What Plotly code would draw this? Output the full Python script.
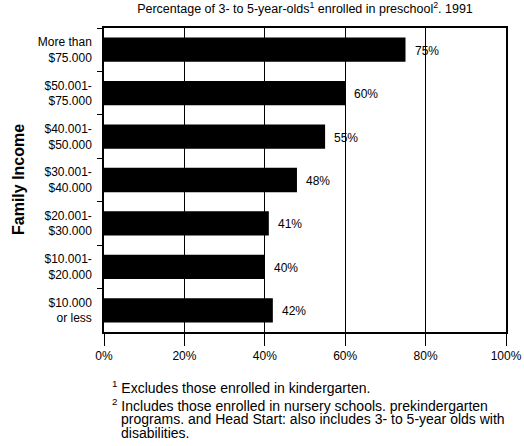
import plotly.graph_objects as go

categories = ["More than<br>$75.000", "$50.001-<br>$75.000", "$40.001-<br>$50.000",
              "$30.001-<br>$40.000", "$20.001-<br>$30.000", "$10.001-<br>$20.000",
              "$10.000<br>or less"]
values = [75, 60, 55, 48, 41, 40, 42]
x_ticks = [0, 20, 40, 60, 80, 100]
x_tick_labels = ["0%", "20%", "40%", "60%", "80%", "100%"]
footnote_lines = [
    "<sup>1</sup> Excludes those enrolled in kindergarten.",
    "<sup>2</sup> Includes those enrolled in nursery schools. prekindergarten",
    "programs. and Head Start: also includes 3- to 5-year olds with",
    "disabilities.",
]

FONT = "Liberation Sans, Arial, Helvetica, sans-serif"
W, H = 524, 446
L, T = 104, 28
R = W - 506
B = H - 332
plot_w = W - L - R

fig = go.Figure()
fig.add_trace(go.Bar(
    y=categories, x=values, orientation="h",
    marker=dict(color="black", line=dict(width=0)),
    width=0.56, hoverinfo="skip",
))

for c, v in zip(categories, values):
    fig.add_annotation(x=v, y=c, text=f"{v}%", showarrow=False,
                       xanchor="left", xshift=7, yshift=-1,
                       font=dict(size=12, color="black", family=FONT))

fig.update_layout(
    width=W, height=H,
    margin=dict(l=L, r=R, t=T, b=B, autoexpand=False),
    paper_bgcolor="white", plot_bgcolor="white",
    showlegend=False,
    font=dict(family=FONT, color="black", size=12),
    title=dict(text="Percentage of 3- to 5-year-olds<sup>1</sup> enrolled in preschool<sup>2</sup>. 1991",
               x=0.5, xref="paper", xanchor="center", y=0.99, yanchor="top",
               font=dict(size=12.5, color="black", family=FONT)),
    bargap=0.44,
)

fig.update_xaxes(
    range=[0, 100], tickvals=x_ticks, ticktext=x_tick_labels,
    showgrid=True, gridcolor="black", gridwidth=1,
    showline=True, linecolor="black", linewidth=1.5, mirror=True,
    ticks="outside", ticklen=12, tickcolor="black", tickwidth=1,
    zeroline=False, tickfont=dict(size=12, color="black", family=FONT),
    automargin=False, fixedrange=True,
)
fig.update_yaxes(
    categoryorder="array", categoryarray=categories, autorange="reversed",
    showline=True, linecolor="black", linewidth=1.5, mirror=True,
    ticks="outside", ticklen=5, tickcolor="black", tickwidth=1,
    tickson="boundaries", showgrid=False, ticklabelstandoff=8,
    tickfont=dict(size=12, color="black", family=FONT),
    automargin=False, fixedrange=True,
)

fig.add_annotation(text="<b>Family Income</b>", textangle=-90, showarrow=False,
                   xref="paper", yref="paper", x=(18 - L) / plot_w, y=0.5,
                   xanchor="center", yanchor="middle",
                   font=dict(size=16, color="black", family=FONT))

centers = [387, 405, 419, 433]
lefts = [110, 110, 119, 119]
for line, cy, lx in zip(footnote_lines, centers, lefts):
    fig.add_annotation(text=line, showarrow=False, xref="paper", yref="paper",
                       x=(lx - L) / plot_w, y=0, xanchor="left", yanchor="middle",
                       yshift=-(cy - (H - B)), align="left",
                       font=dict(size=14, color="black", family=FONT))

fig.write_html("out.html", config={"displayModeBar": False},
               post_script="document.body.style.margin='0';")
